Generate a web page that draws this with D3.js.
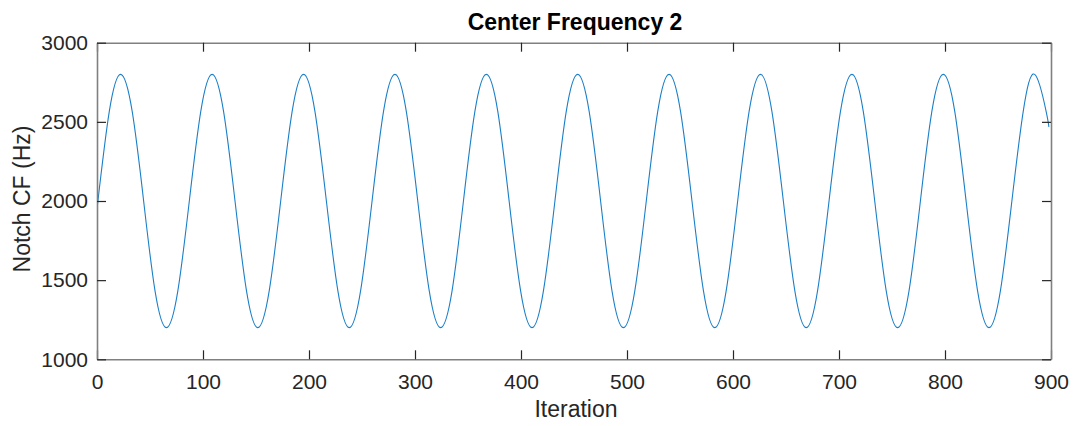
<!DOCTYPE html>
<html>
<head>
<meta charset="utf-8">
<script src="https://cdn.jsdelivr.net/npm/d3@7"></script>
<style>
  html, body { margin: 0; padding: 0; background: #fff; }
  text { font-family: "Liberation Sans", Arial, Helvetica, sans-serif; }
</style>
</head>
<body>
<svg id="chart" width="1077" height="426"></svg>
<script>
// ---- data (iteration, notch centre frequency in Hz) ----
const iterations = [
  0, 11.6, 22.4, 33.2, 44.0, 54.7, 65.5, 76.3, 87.1, 97.9,
  108.6, 119.4, 130.2, 141.0, 151.7, 162.5, 173.3, 184.1, 194.9, 205.6,
  216.4, 227.2, 238.0, 248.7, 259.5, 270.3, 281.1, 291.8, 302.6, 313.4,
  324.2, 335.0, 345.7, 356.5, 367.3, 378.1, 388.8, 399.6, 410.4, 421.2,
  432.0, 442.7, 453.5, 464.3, 475.1, 485.8, 496.6, 507.4, 518.2, 529.0,
  539.7, 550.5, 561.3, 572.1, 582.8, 593.6, 604.4, 615.2, 626.0, 636.7,
  647.5, 658.3, 669.1, 679.8, 690.6, 701.4, 712.2, 722.9, 733.7, 744.5,
  755.3, 766.1, 776.8, 787.6, 798.4, 809.2, 819.9, 830.7, 841.5, 852.3,
  863.1, 873.8, 884.6, 895.4, 898
];
const centerFreq = [
  1950, 2566, 2800, 2566, 2000, 1434, 1200, 1434, 2000, 2566,
  2800, 2566, 2000, 1434, 1200, 1434, 2000, 2566, 2800, 2566,
  2000, 1434, 1200, 1434, 2000, 2566, 2800, 2566, 2000, 1434,
  1200, 1434, 2000, 2566, 2800, 2566, 2000, 1434, 1200, 1434,
  2000, 2566, 2800, 2566, 2000, 1434, 1200, 1434, 2000, 2566,
  2800, 2566, 2000, 1434, 1200, 1434, 2000, 2566, 2800, 2566,
  2000, 1434, 1200, 1434, 2000, 2566, 2800, 2566, 2000, 1434,
  1200, 1434, 2000, 2566, 2800, 2566, 2000, 1434, 1200, 1434,
  2000, 2566, 2800, 2566, 2468
];
const xTicks = [0, 100, 200, 300, 400, 500, 600, 700, 800, 900];
const yTicks = [1000, 1500, 2000, 2500, 3000];
const titleText = "Center Frequency 2";
const xLabel = "Iteration";
const yLabel = "Notch CF (Hz)";

// ---- layout ----
const svg = d3.select("#chart");
const pLeft = 97, pRight = 1051, pTop = 42.7, pBottom = 359.3;
const tickLen = 9;

const x = d3.scaleLinear().domain([0, 900]).range([pLeft, pRight]);
const y = d3.scaleLinear().domain([1000, 3000]).range([pBottom, pTop]);

const points = iterations.map((it, i) => [it, centerFreq[i]]);

// data line (clipped to plot box)
svg.append("clipPath").attr("id", "clip")
  .append("rect").attr("x", pLeft).attr("y", pTop)
  .attr("width", pRight - pLeft).attr("height", pBottom - pTop);

const line = d3.line()
  .x(d => x(d[0]))
  .y(d => y(d[1]))
  .curve(d3.curveNatural);

svg.append("path")
  .datum(points)
  .attr("clip-path", "url(#clip)")
  .attr("fill", "none")
  .attr("stroke", "#1a7fc8")
  .attr("stroke-width", 1.1)
  .attr("d", line);

// axes (MATLAB-style box with inward ticks)
const axisColor = "#262626";
const fmt = d3.format("d");
const bottomAxis = d3.axisBottom(x).tickValues(xTicks).tickFormat(fmt).tickSize(-tickLen).tickPadding(15).tickSizeOuter(0);
const topAxis = d3.axisTop(x).tickValues(xTicks).tickSize(-tickLen).tickFormat("").tickSizeOuter(0);
const leftAxis = d3.axisLeft(y).tickValues(yTicks).tickFormat(fmt).tickSize(-tickLen).tickPadding(9).tickSizeOuter(0);
const rightAxis = d3.axisRight(y).tickValues(yTicks).tickSize(-tickLen).tickFormat("").tickSizeOuter(0);

function style(g) {
  g.select(".domain").attr("stroke", "#808080").attr("stroke-width", 1.6);
  g.selectAll(".tick line").attr("stroke", axisColor).attr("stroke-width", 1.2);
  g.selectAll(".tick text")
    .attr("fill", axisColor)
    .style("font-size", "21px")
    .style("font-family", '"Liberation Sans", Arial, sans-serif');
}

svg.append("g").attr("transform", `translate(0,${pBottom})`).call(bottomAxis).call(style);
svg.append("g").attr("transform", `translate(0,${pTop})`).call(topAxis).call(style);
svg.append("g").attr("transform", `translate(${pLeft},0)`).call(leftAxis).call(style);
svg.append("g").attr("transform", `translate(${pRight},0)`).call(rightAxis).call(style);

// title and labels
svg.append("text")
  .attr("x", (pLeft + pRight) / 2 + 1).attr("y", 30)
  .attr("text-anchor", "middle")
  .attr("fill", "#000")
  .style("font-size", "23px").style("font-weight", "bold")
  .text(titleText);

svg.append("text")
  .attr("x", (pLeft + pRight) / 2 + 2).attr("y", 417)
  .attr("text-anchor", "middle")
  .attr("fill", axisColor)
  .style("font-size", "23px")
  .text(xLabel);

svg.append("text")
  .attr("transform", `translate(30,${(pTop + pBottom) / 2 - 2}) rotate(-90)`)
  .attr("text-anchor", "middle")
  .attr("fill", axisColor)
  .style("font-size", "23px")
  .text(yLabel);
</script>
</body>
</html>
